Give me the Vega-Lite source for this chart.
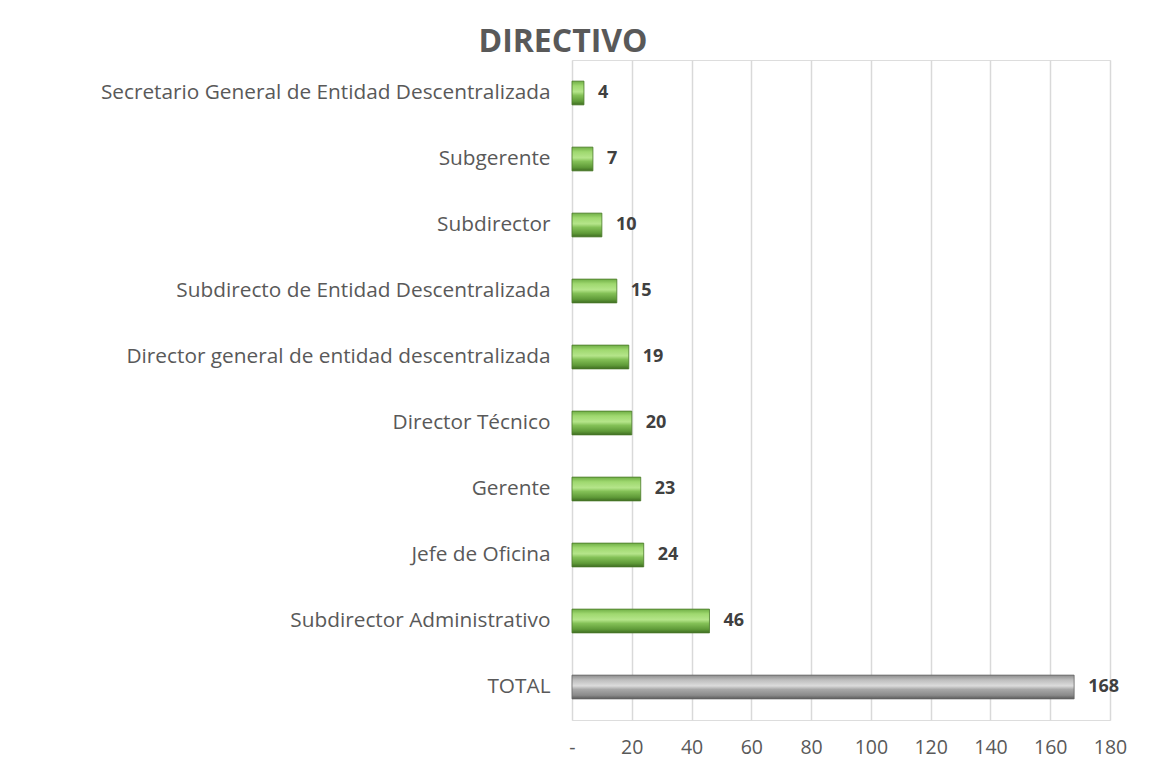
{
  "$schema": "https://vega.github.io/schema/vega-lite/v6.json",
  "width": 538,
  "height": 660,
  "autosize": {"type": "none"},
  "padding": {"left": 572, "top": 60, "right": 43, "bottom": 44},
  "background": "white",
  "title": {
    "text": "DIRECTIVO",
    "font": "Open Sans",
    "fontSize": 32,
    "fontWeight": "bold",
    "color": "#595959",
    "anchor": "middle",
    "dx": -278,
    "dy": 31,
    "baseline": "alphabetic",
    "offset": 7
  },
  "data": {
    "values": [
      {"cargo": "Secretario General de Entidad Descentralizada", "cantidad": 4, "tipo": "cargo"},
      {"cargo": "Subgerente", "cantidad": 7, "tipo": "cargo"},
      {"cargo": "Subdirector", "cantidad": 10, "tipo": "cargo"},
      {"cargo": "Subdirecto de Entidad Descentralizada", "cantidad": 15, "tipo": "cargo"},
      {"cargo": "Director general de entidad descentralizada", "cantidad": 19, "tipo": "cargo"},
      {"cargo": "Director Técnico", "cantidad": 20, "tipo": "cargo"},
      {"cargo": "Gerente", "cantidad": 23, "tipo": "cargo"},
      {"cargo": "Jefe de Oficina", "cantidad": 24, "tipo": "cargo"},
      {"cargo": "Subdirector Administrativo", "cantidad": 46, "tipo": "cargo"},
      {"cargo": "TOTAL", "cantidad": 168, "tipo": "total"}
    ]
  },
  "encoding": {
    "y": {
      "field": "cargo",
      "type": "nominal",
      "sort": null,
      "scale": {"paddingInner": 0.64, "paddingOuter": 0.32},
      "axis": {
        "title": null,
        "domain": false,
        "ticks": false,
        "labelPadding": 22,
        "labelFont": "Open Sans",
        "labelFontSize": 20.8,
        "labelColor": "#595959",
        "labelLimit": 600
      }
    },
    "x": {
      "field": "cantidad",
      "type": "quantitative",
      "scale": {"domain": [0, 180], "nice": false},
      "axis": {
        "title": null,
        "values": [0, 20, 40, 60, 80, 100, 120, 140, 160, 180],
        "labelExpr": "datum.value === 0 ? '-' : datum.label",
        "labelFlush": false,
        "labelOverlap": false,
        "domain": false,
        "ticks": false,
        "grid": true,
        "gridColor": "#d9d9d9",
        "gridWidth": 1.5,
        "labelPadding": 18,
        "labelFont": "Open Sans",
        "labelFontSize": 19.5,
        "labelColor": "#595959"
      }
    }
  },
  "layer": [
    {
      "transform": [{"filter": "datum.tipo === 'cargo'"}],
      "mark": {
        "type": "bar",
        "stroke": "#4a7a2a",
        "strokeWidth": 0.8,
        "color": {
          "gradient": "linear",
          "x1": 0, "y1": 0, "x2": 0, "y2": 1,
          "stops": [
            {"offset": 0, "color": "#6fae45"},
            {"offset": 0.2, "color": "#9fd86f"},
            {"offset": 0.45, "color": "#b5e58a"},
            {"offset": 0.6, "color": "#84c157"},
            {"offset": 0.85, "color": "#5f9a38"},
            {"offset": 1, "color": "#3f6d22"}
          ]
        }
      }
    },
    {
      "transform": [{"filter": "datum.tipo === 'total'"}],
      "mark": {
        "type": "bar",
        "stroke": "#666666",
        "strokeWidth": 0.8,
        "color": {
          "gradient": "linear",
          "x1": 0, "y1": 0, "x2": 0, "y2": 1,
          "stops": [
            {"offset": 0, "color": "#8c8c8c"},
            {"offset": 0.2, "color": "#bdbdbd"},
            {"offset": 0.45, "color": "#dcdcdc"},
            {"offset": 0.6, "color": "#a8a8a8"},
            {"offset": 0.85, "color": "#8a8a8a"},
            {"offset": 1, "color": "#5a5a5a"}
          ]
        }
      }
    },
    {
      "mark": {
        "type": "text",
        "align": "left",
        "baseline": "middle",
        "dx": 14,
        "font": "Open Sans",
        "fontSize": 18,
        "fontWeight": "bold",
        "color": "#404040"
      },
      "encoding": {
        "text": {"field": "cantidad", "type": "quantitative"}
      }
    }
  ]
}
